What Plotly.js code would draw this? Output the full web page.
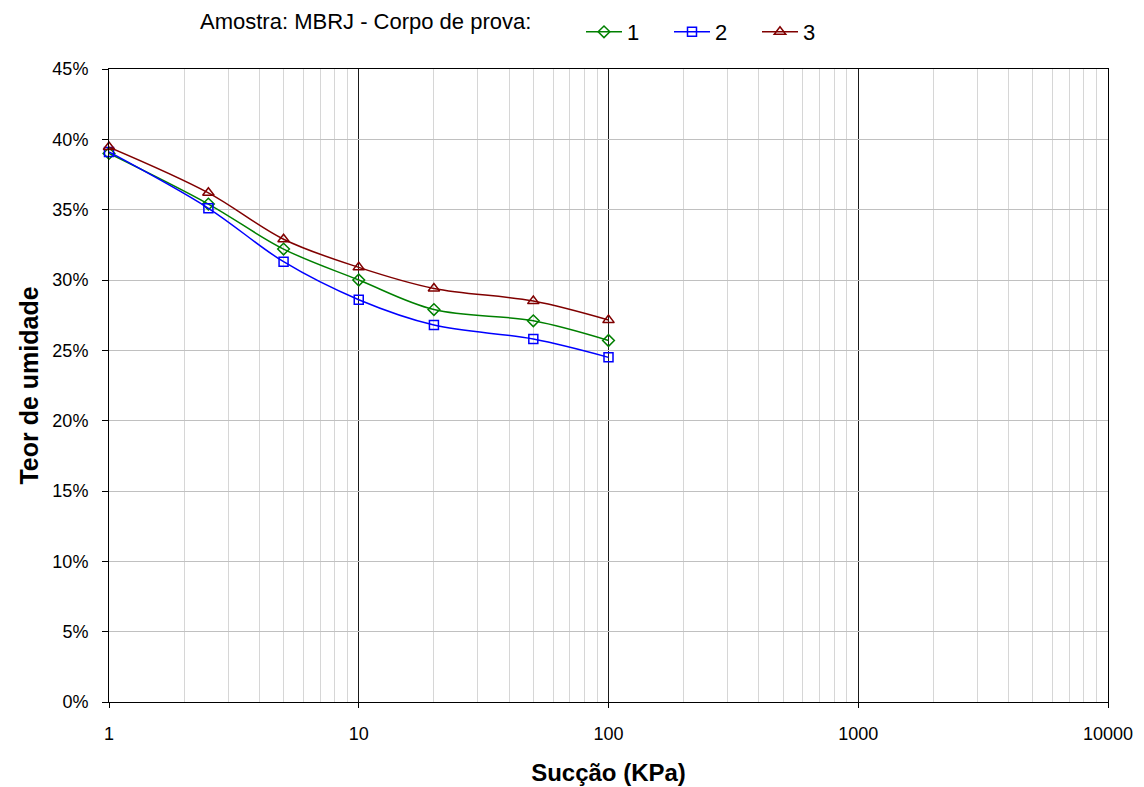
<!DOCTYPE html>
<html>
<head>
<meta charset="utf-8">
<script src="https://cdn.plot.ly/plotly-3.0.1.min.js"></script>
<style>html,body{margin:0;padding:0;background:#fff;}#chart{width:1144px;height:787px;}</style>
</head>
<body>
<div id="chart"></div>
<script>
// Data
const suction = [1, 2.5, 5, 10, 20, 50, 100];          // Sucção (KPa)
const cp1 = [39.0, 35.4, 32.2, 30.0, 27.9, 27.1, 25.7];  // Corpo de prova 1 (%)
const cp2 = [39.1, 35.1, 31.3, 28.6, 26.8, 25.8, 24.5];  // Corpo de prova 2 (%)
const cp3 = [39.45, 36.2, 32.9, 30.9, 29.4, 28.5, 27.15]; // Corpo de prova 3 (%)
const seriesNames = ['1', '2', '3'];
const yTicks = [0, 5, 10, 15, 20, 25, 30, 35, 40, 45];
const yTickText = yTicks.map(v => v + '%');
const xTicks = [1, 10, 100, 1000, 10000];

const FONT = 'Liberation Sans, Arial, sans-serif';

function trace(y, name, color, symbol, size) {
  return {
    x: suction, y: y, name: name, type: 'scatter', mode: 'lines+markers',
    line: {color: color, width: 1.5, shape: 'spline', smoothing: 1},
    marker: {symbol: symbol, size: size, color: color, line: {color: color, width: 1.5}},
    cliponaxis: false
  };
}

const data = [
  trace(cp1, seriesNames[0], '#008000', 'diamond-open', 9),
  trace(cp2, seriesNames[1], '#0000FF', 'square-open', 9),
  trace(cp3, seriesNames[2], '#800000', 'triangle-up-open', 10)
];

const layout = {
  width: 1144, height: 787,
  margin: {l: 109, r: 36, t: 69, b: 85, pad: 0},
  paper_bgcolor: '#fff', plot_bgcolor: '#fff',
  font: {family: FONT, color: '#000', size: 18},
  showlegend: true,
  hovermode: false,
  legend: {
    orientation: 'h', xref: 'container', yref: 'container',
    x: 581/1144, y: 1 - 11/787, xanchor: 'left', yanchor: 'top',
    font: {family: FONT, size: 22, color: '#000'},
    entrywidth: 37, entrywidthmode: 'pixels',
    itemwidth: 36, bgcolor: 'rgba(0,0,0,0)', borderwidth: 0,
    tracegroupgap: 0
  },
  annotations: [{
    text: 'Amostra: MBRJ - Corpo de prova:',
    xref: 'paper', yref: 'paper',
    x: (198 - 109) / 999, y: (702 - 22) / 633,
    xanchor: 'left', yanchor: 'middle', showarrow: false,
    font: {family: FONT, size: 22, color: '#000'}
  }],
  xaxis: {
    type: 'log', range: [0, 4],
    tickvals: xTicks, ticktext: xTicks.map(String),
    showgrid: true, gridcolor: '#1a1a1a', gridwidth: 1,
    minor: {dtick: 'D1', showgrid: true, gridcolor: '#d6d6d6', gridwidth: 1, ticks: ''},
    showline: true, linecolor: '#000', linewidth: 1, mirror: true,
    ticks: 'outside', ticklen: 5, tickcolor: '#000', tickwidth: 1,
    ticklabelstandoff: 10,
    tickfont: {family: FONT, size: 18, color: '#000'},
    zeroline: false,
    title: {text: '<b>Sucção (KPa)</b>', font: {family: FONT, size: 24, color: '#000'}, standoff: 21}
  },
  yaxis: {
    range: [0, 45], tickmode: 'array', tickvals: yTicks, ticktext: yTickText,
    showgrid: true, gridcolor: '#c0c0c0', gridwidth: 1,
    showline: true, linecolor: '#000', linewidth: 1, mirror: true,
    ticks: 'outside', ticklen: 6, tickcolor: '#000', tickwidth: 1,
    ticklabelstandoff: 10,
    tickfont: {family: FONT, size: 18, color: '#000'},
    zeroline: false,
    title: {text: '<b>Teor de umidade</b>', font: {family: FONT, size: 25, color: '#000'}, standoff: 6}
  }
};

Plotly.newPlot('chart', data, layout, {displayModeBar: false, staticPlot: true});
</script>
</body>
</html>
